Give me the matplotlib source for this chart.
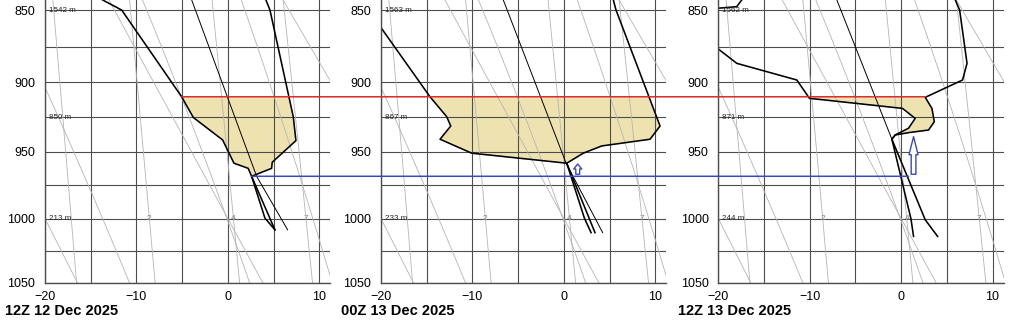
import numpy as np
import matplotlib
matplotlib.use("Agg")
import matplotlib.pyplot as plt
from matplotlib.patches import ConnectionPatch
from matplotlib.ticker import NullLocator

plt.rcParams['font.family'] = ['Liberation Sans', 'DejaVu Sans']

# ---- data (deg C, hPa) ----
titles = ['12Z 12 Dec 2025', '00Z 13 Dec 2025', '12Z 13 Dec 2025']

temp_c = [
    [4.17, 4.61, 7.16, 7.45, 4.86, 4.79, 2.6, 5.15],
    [5.42, 5.71, 10.53, 9.43, 4.15, 2.13, 0.32, 3.41],
    [5.93, 6.40, 7.21, 6.72, 2.64, 3.37, 3.63, 3.0, 0.81, -0.65, -1.01, 2.64, 3.99],
]
temp_hpa = [
    [843.2, 850, 924.6, 941.9, 957.8, 962.3, 968.2, 1008.6],
    [843.2, 850, 931.3, 940.9, 945.8, 951.1, 958.5, 1010.8],
    [843.2, 850, 886.7, 898.4, 910.7, 918.6, 928.2, 934.2, 936.1, 937.8, 940.9, 1001.0, 1013.7],
]

dewp_c = [
    [-13.69, -11.61, -5.05, -3.78, -0.57, 0.67, 2.23, 2.6, 4.06, 5.15],
    [-21.4, -20.0, -14.64, -12.81, -12.37, -13.54, -10.08, 0.32, 2.25, 2.98],
    [-17.44, -17.98, -20.1, -22.5, -22.5, -20.1, -17.98, -11.41, -10.03, 0.15, 1.54, 0.81,
     -0.65, -1.01, 1.07, 1.36],
]
dewp_hpa = [
    [843.2, 850, 910.3, 925.1, 941.4, 958.5, 962.3, 968.2, 999.7, 1008.6],
    [850, 862.0, 910.3, 924.6, 931.3, 940.9, 951.1, 958.5, 999.7, 1010.8],
    [843.2, 847.7, 848.8, 849.6, 872.0, 876.2, 886.7, 898.4, 911.4, 918.6, 925.8, 932.9,
     937.8, 940.9, 1000.0, 1013.7],
]

parcel_c = [[-3.95, 3.15, 6.54], [-6.62, 0.25, 4.25], [-7.03, -1.01]]
parcel_hpa = [[843.2, 968.2, 1008.6], [843.2, 958.5, 1010.8], [843.2, 940.9]]

height_levels = [850, 925, 1000]
height_labels = [['1542 m', '850 m', '213 m'],
                 ['1563 m', '867 m', '233 m'],
                 ['1562 m', '871 m', '244 m']]

red_hpa = 910.3
red_x = [-5.05, 2.64]      # start in first panel, end in last panel
blue_hpa = 968.2
blue_x = [2.6, 0.81]
fill_bottom_hpa = [968.2, 958.5, 937.8]

arrow_x = [None, 1.52, 1.36]
arrow_tail_hpa = [None, 966.7, 966.7]
arrow_tip_hpa = [None, 959.1, 939.0]

# background lines
mixing_gkg = [1, 2, 4, 7]
mixing_labels = [2, 4, 7]
dry_theta_c = [-20, 0, 20]
moist_t1000_c = [-13.7, -0.1, 9.3]

KAPPA = 0.286
P_TOP, P_BOT = 843.2, 1050
grid_col = '#4d4d4d'
bg_col = '#b4b4b4'
red = '#dd2a2a'
blue = '#3c48c0'
fill_col = '#eee3b0'


def stuve_fwd(p):
    return np.power(np.clip(p, 1e-3, None), KAPPA)


def stuve_inv(y):
    return np.power(np.clip(y, 1e-6, None), 1.0 / KAPPA)


def mixing_td(w, p):
    e = p * w / (622.0 + w)
    a = np.log(e / 6.112)
    return 243.5 * a / (17.67 - a)


def moist_dtdp(t, p):
    es = 6.112 * np.exp(17.67 * (t - 273.15) / (t - 29.65))
    rs = 0.622 * es / (p - es)
    lv, rd, cp = 2.501e6, 287.04, 1005.7
    return (rd * t + lv * rs) / (p * (cp + lv ** 2 * rs * 0.622 / (rd * t ** 2)))


def moist_line(t1000):
    out = {}
    for stop in (835.0, 1060.0):
        t = t1000 + 273.15
        p = 1000.0
        dp = -1.0 if stop < 1000 else 1.0
        while (p > stop) if dp < 0 else (p < stop):
            k1 = moist_dtdp(t, p)
            k2 = moist_dtdp(t + k1 * dp, p + dp)
            t += 0.5 * (k1 + k2) * dp
            p += dp
            out[p] = t - 273.15
    out[1000.0] = t1000
    ps = np.array(sorted(out))
    return np.array([out[k] for k in ps]), ps


pgrid = np.linspace(835, 1060, 120)

fig = plt.figure(figsize=(10.24, 3.26), dpi=100)
lefts_px = [45, 381, 718.3]
axes = []
for i in range(3):
    ax = fig.add_axes([lefts_px[i] / 1024, 43 / 326, 285.2 / 1024, 283 / 326])
    axes.append(ax)
    ax.set_yscale('function', functions=(stuve_fwd, stuve_inv))
    ax.set_xlim(-20, 11.2)
    ax.set_ylim(P_BOT, P_TOP)

    # grid
    for t in range(-20, 11, 5):
        ax.axvline(t, color=grid_col, lw=0.8, zorder=1)
    for p in range(850, 1051, 25):
        ax.axhline(p, color=grid_col, lw=0.8, zorder=1)

    # background adiabats / mixing ratio lines
    for w in mixing_gkg:
        ax.plot(mixing_td(w, pgrid), pgrid, color=bg_col, lw=0.6, zorder=1.2)
    for th in dry_theta_c:
        ax.plot((th + 273.15) * (pgrid / 1000.0) ** KAPPA - 273.15, pgrid,
                color=bg_col, lw=0.6, zorder=1.2)
    for t0 in moist_t1000_c:
        mt, mp = moist_line(t0)
        ax.plot(mt, mp, color=bg_col, lw=0.6, zorder=1.2)
    for w in mixing_labels:
        ax.text(mixing_td(w, 1000.0), 1000, str(w), fontsize=6, color='0.5',
                ha='center', va='center', zorder=3)

    # shaded layer between dew point and temperature
    tp = np.array(temp_hpa[i])
    dp_ = np.array(dewp_hpa[i])
    lo, hi = red_hpa, fill_bottom_hpa[i]
    brk = np.concatenate([[lo, hi], tp[(tp > lo) & (tp < hi)], dp_[(dp_ > lo) & (dp_ < hi)]])
    brk = np.unique(brk)
    x_d = np.interp(brk, dp_, dewp_c[i])
    x_t = np.interp(brk, tp, temp_c[i])
    ax.fill_betweenx(brk, x_d, x_t, color=fill_col, lw=0, zorder=0.5)

    ax.plot(parcel_c[i], parcel_hpa[i], color='black', lw=0.7, zorder=2)
    ax.plot(temp_c[i], temp_hpa[i], color='black', lw=1.15, zorder=2.5)
    ax.plot(dewp_c[i], dewp_hpa[i], color='black', lw=1.15, zorder=2.5)

    for lev, lab in zip(height_levels, height_labels[i]):
        ax.text(-19.6, lev, lab, fontsize=5.8, color='0.15', ha='left', va='center', zorder=3)

    if arrow_x[i] is not None:
        big = arrow_tip_hpa[i] < 950
        style = ('simple,head_length=13,head_width=6.5,tail_width=3.4' if big
                 else 'simple,head_length=3.6,head_width=5.8,tail_width=2.8')
        ax.annotate('', xy=(arrow_x[i], arrow_tip_hpa[i]),
                    xytext=(arrow_x[i], arrow_tail_hpa[i]),
                    arrowprops=dict(arrowstyle=style, mutation_scale=1, fc='white',
                                    ec=blue, lw=1.0, shrinkA=0, shrinkB=0),
                    zorder=4)

    ax.set_yticks([850, 900, 950, 1000, 1050], ['850', '900', '950', '1000', '1050'])
    ax.yaxis.set_minor_locator(NullLocator())
    ax.set_xticks([-20, -10, 0, 10])
    ax.tick_params(length=0, labelsize=9, colors='black')
    ax.tick_params(axis='y', pad=7)
    ax.tick_params(axis='x', pad=6)
    for side in ('top', 'right'):
        ax.spines[side].set_visible(False)
    for side in ('left', 'bottom'):
        ax.spines[side].set_color(grid_col)
        ax.spines[side].set_linewidth(1.0)

    fig.text((lefts_px[i] - 40) / 1024, 11 / 326, titles[i], fontsize=10.5,
             fontweight='bold', va='baseline', ha='left')

# level lines running across the panels
for hp, xs, col in ((red_hpa, red_x, red), (blue_hpa, blue_x, blue)):
    con = ConnectionPatch(xyA=(xs[0], hp), coordsA='data', axesA=axes[0],
                          xyB=(xs[1], hp), coordsB='data', axesB=axes[2],
                          color=col, lw=1.1, zorder=5)
    fig.add_artist(con)

fig.savefig('out.png', dpi=100)
